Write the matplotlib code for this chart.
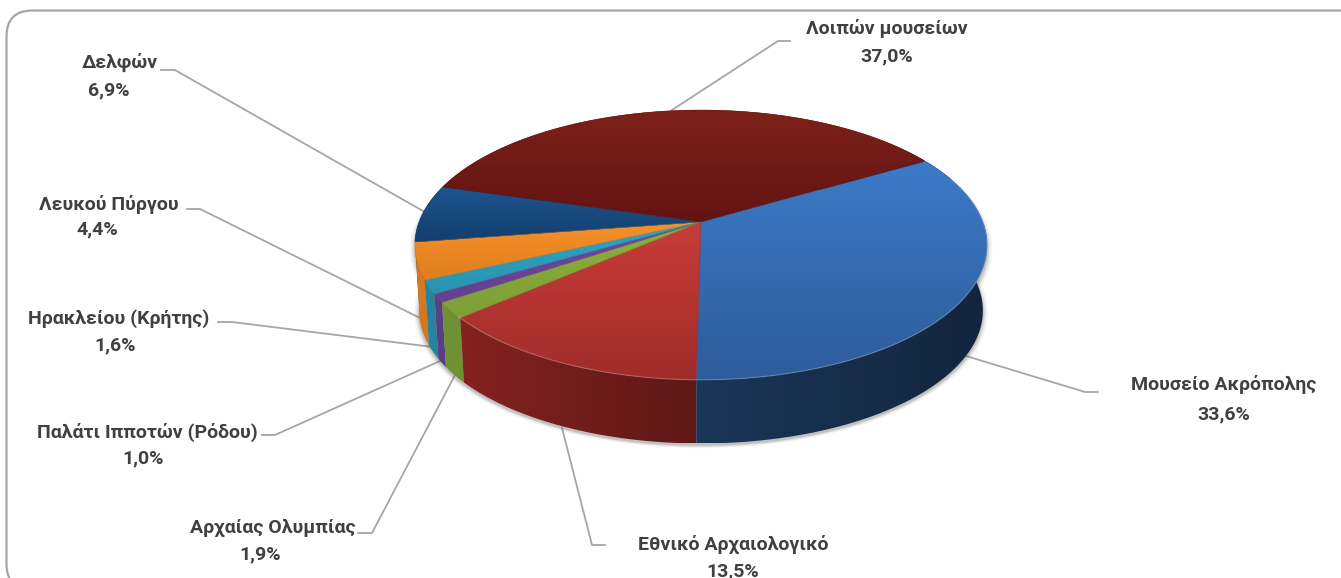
import matplotlib
matplotlib.use("Agg")
import matplotlib.pyplot as plt
import numpy as np
from matplotlib.patches import Polygon, FancyBboxPatch

plt.rcParams['font.family'] = ['Roboto', 'DejaVu Sans']

# ================= Data ===============
names = ["Μουσείο Ακρόπολης", "Εθνικό Αρχαιολογικό", "Αρχαίας Ολυμπίας",
         "Παλάτι Ιπποτών (Ρόδου)", "Ηρακλείου (Κρήτης)", "Λευκού Πύργου",
         "Δελφών", "Λοιπών μουσείων"]
values = [33.6, 13.5, 1.9, 1.0, 1.6, 4.4, 6.9, 37.0]

# top face gradient (upper, lower) and side wall gradient (left, right)
top_colors = [("#3C7AC8", "#2D5C9A"), ("#C83C38", "#A02C2A"), ("#8CB03C", "#7E9F36"),
              ("#7048A0", "#644090"), ("#2FA5C4", "#2A93AF"), ("#F7912B", "#DE7E1E"),
              ("#1C5590", "#143E6C"), ("#7E201A", "#621412")]
side_colors = [("#1A3658", "#13253E"), ("#84221F", "#5E1816"), ("#6F9134", "#6F9134"),
               ("#5A3E85", "#5A3E85"), ("#25849E", "#25849E"), ("#D8781E", "#D8781E"),
               ("#143E6C", "#143E6C"), ("#621412", "#621412")]

# label text centres and leader lines, in pixels of the picture
name_pos = [(1224, 385), (733, 544), (273, 528), (147, 432), (119, 319), (109, 204), (120, 62), (887, 29)]
pct_pos = [(1224, 414), (733, 571), (260, 554), (143, 458), (115, 345), (97, 229), (109, 90), (887, 56)]
leaders = [[(1098, 392), (1085, 392), (966, 356)],
           [(605, 545), (592, 545), (562, 428)],
           [(358, 533), (372, 533), (455, 375)],
           [(262, 435), (275, 435), (440, 361)],
           [(218, 322), (232, 322), (433, 347)],
           [(187, 209), (200, 209), (420, 318)],
           [(161, 70), (175, 70), (423, 211)],
           [(790, 41), (778, 41), (672, 110)]]

# pie geometry
cx, cy = 701, 222
rx, ry = 282, 131
persp = 0.17
depth = 66
bottom_scale = 0.985
start_angle = -90.8


def project(theta, scale=1.0, dy=0):
    t = np.radians(theta)
    d = 1 + persp * np.sin(t)
    return (cx + scale * rx * np.cos(t) / d, cy + dy - scale * ry * np.sin(t) / d)


def rgb(c):
    return np.array(matplotlib.colors.to_rgb(c))


def gradient_fill(px, py, c0, c1, vertical, zorder):
    # polygon filled by a two colour gradient over its bounding box
    poly = Polygon(np.c_[px, py], fc="none", ec="none", zorder=zorder)
    ax.add_patch(poly)
    grad = np.linspace(0, 1, 256)
    grad = grad[:, None, None] if vertical else grad[None, :, None]
    img = rgb(c0)[None, None, :] * (1 - grad) + rgb(c1)[None, None, :] * grad
    im = ax.imshow(img, extent=(px.min(), px.max(), py.max(), py.min()), aspect="auto", zorder=zorder)
    im.set_clip_path(poly)


fig = plt.figure(figsize=(13.41, 5.78), dpi=100)
ax = fig.add_axes([0, 0, 1, 1])
ax.set_xlim(0, 1341)
ax.set_ylim(578, 0)
ax.axis("off")

# frame, open to the right and bottom of the picture
frame = FancyBboxPatch((6.5, 10.5), 1400, 579.5, boxstyle="round,pad=0,rounding_size=26",
                       fc="white", ec="#A6A6A6", lw=1.6, zorder=0)
ax.add_patch(frame)

# leaders under the pie
for pts in leaders:
    ax.plot(*zip(*pts), color="#A6A6A6", lw=1.3, zorder=1)

# soft shadow
full = np.linspace(0, 360, 361)
for grow, alpha in zip([1.018, 1.012, 1.007, 1.003], [0.05, 0.08, 0.12, 0.16]):
    x, y = project(full, bottom_scale * grow, depth + 2)
    ax.add_patch(Polygon(np.c_[x, y], fc="#555555", ec="none", alpha=alpha, zorder=2))
    x, y = project(full, grow, 4)
    ax.add_patch(Polygon(np.c_[x, y], fc="#555555", ec="none", alpha=alpha, zorder=2))

# blue runs from the front edge to the right, the others round by the left
lo, hi = [start_angle], [start_angle + values[0] * 3.6]
cur = start_angle
for v in values[1:]:
    hi.append(cur)
    cur = cur - v * 3.6
    lo.append(cur)

# side walls, back slices first so the front ones cover them
for i in reversed(range(len(values))):
    th = np.linspace(lo[i], hi[i], 200)
    x0, y0 = project(th)
    x1, y1 = project(th[::-1], bottom_scale, depth)
    gradient_fill(np.r_[x0, x1], np.r_[y0, y1], side_colors[i][0], side_colors[i][1], False, 3 + (7 - i) * 0.01)

# top faces
for a, b, cols in zip(lo, hi, top_colors):
    th = np.linspace(a, b, 200)
    x, y = project(th)
    px = np.r_[cx, x]
    py = np.r_[cy, y]
    gradient_fill(px, py, cols[0], cols[1], True, 4)
    ax.add_patch(Polygon(np.c_[px, py], fc="none", ec=cols[1], lw=0.3, zorder=5))

ax.set_xlim(0, 1341)
ax.set_ylim(578, 0)

# light rim along the front edge of the top
th = np.linspace(-140, 20, 300)
x, y = project(th)
ax.plot(x, y, color="white", alpha=0.22, lw=0.9, zorder=6)

# labels
for name, v, np_, pp in zip(names, values, name_pos, pct_pos):
    pct = f"{v:.1f}%".replace(".", ",")
    ax.text(np_[0], np_[1], name, ha="center", va="center", fontsize=14, fontweight="bold", color="#404040", zorder=7)
    ax.text(pp[0], pp[1], pct, ha="center", va="center", fontsize=14, fontweight="bold", color="#404040", zorder=7)

fig.savefig("out.png", dpi=100, facecolor="white")
